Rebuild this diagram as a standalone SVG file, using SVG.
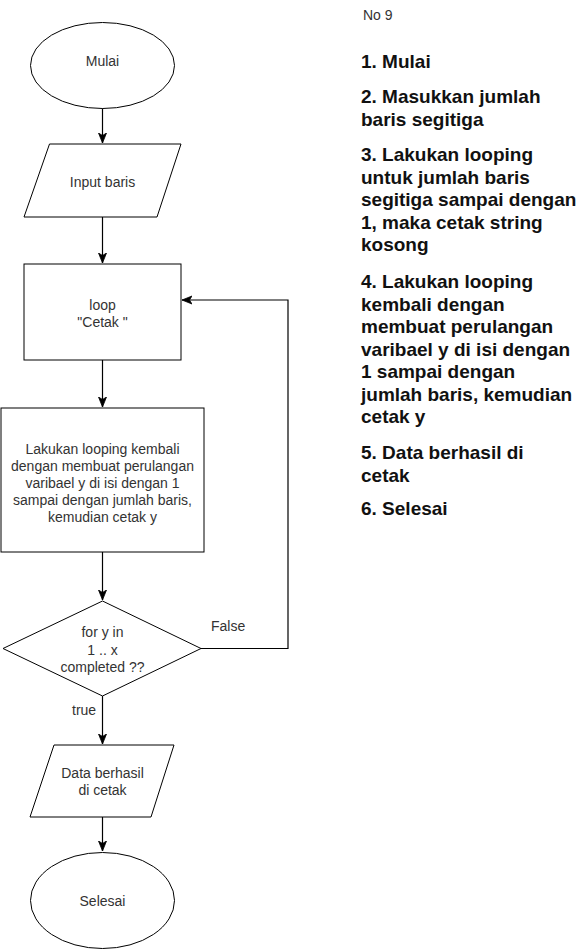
<svg xmlns="http://www.w3.org/2000/svg" width="584" height="950" viewBox="0 0 584 950">
<defs>
<style>
.shape{fill:#ffffff;stroke:#000000;stroke-width:1}
.lbl{font-family:"Liberation Sans",Arial,Helvetica,sans-serif;font-size:14px;fill:#333333;text-anchor:middle}
.edge{fill:none;stroke:#000000;stroke-width:1.2}
.elbl{font-family:"Liberation Sans",Arial,Helvetica,sans-serif;font-size:14px;fill:#333333}
.step{font-family:"Liberation Sans",Arial,Helvetica,sans-serif;font-size:19px;font-weight:bold;fill:#111111}
</style>
<marker id="arr" markerUnits="userSpaceOnUse" markerWidth="11" markerHeight="10" refX="10" refY="5" orient="auto">
<path d="M0,1 L10,5 L0,9 L2.5,5 Z" fill="#000000" stroke="#000000" stroke-width="0.8"/>
</marker>
</defs>
<rect width="584" height="950" fill="#ffffff"/>

<g id="connectors">
<path class="edge" d="M102.5,108 L102.5,143" marker-end="url(#arr)"/>
<path class="edge" d="M102.5,217 L102.5,263" marker-end="url(#arr)"/>
<path class="edge" d="M102.5,360 L102.5,407" marker-end="url(#arr)"/>
<path class="edge" d="M102.5,552 L102.5,600" marker-end="url(#arr)"/>
<path class="edge" d="M201,648.5 L288,648.5 L288,300 L182,300" marker-end="url(#arr)"/>
<path class="edge" d="M102.5,696 L102.5,744" marker-end="url(#arr)"/>
<path class="edge" d="M102.5,817 L102.5,851" marker-end="url(#arr)"/>
<text class="elbl" x="211" y="631">False</text>
<text class="elbl" x="72" y="715">true</text>
</g>

<g id="mulai">
<ellipse class="shape" cx="102.5" cy="65.5" rx="72" ry="43"/>
<text class="lbl" x="102.5" y="66">Mulai</text>
</g>

<g id="input">
<polygon class="shape" points="49.5,144 181,144 157,217 24,217"/>
<text class="lbl" x="102.5" y="187">Input baris</text>
</g>

<g id="loop">
<rect class="shape" x="24" y="264" width="157" height="96"/>
<text class="lbl" x="102.5" y="310">loop</text>
<text class="lbl" x="102.5" y="327">"Cetak "</text>
</g>

<g id="proses">
<rect class="shape" x="1" y="408" width="203" height="144"/>
<text class="lbl" x="102.5" y="454">Lakukan looping kembali</text>
<text class="lbl" x="102.5" y="471">dengan membuat perulangan</text>
<text class="lbl" x="102.5" y="488">varibael y di isi dengan 1</text>
<text class="lbl" x="102.5" y="505">sampai dengan jumlah baris,</text>
<text class="lbl" x="102.5" y="522">kemudian cetak y</text>
</g>

<g id="kondisi">
<polygon class="shape" points="102.5,601 201,648.5 102.5,696 3,648.5"/>
<text class="lbl" x="102.5" y="637">for y in</text>
<text class="lbl" x="102.5" y="655">1 .. x</text>
<text class="lbl" x="102.5" y="672">completed ??</text>
</g>

<g id="output">
<polygon class="shape" points="54,745 174,745 151,817 30,817"/>
<text class="lbl" x="102.5" y="778">Data berhasil</text>
<text class="lbl" x="102.5" y="795">di cetak</text>
</g>

<g id="selesai">
<ellipse class="shape" cx="102.5" cy="900.5" rx="72" ry="48"/>
<text class="lbl" x="102.5" y="906">Selesai</text>
</g>

<g id="keterangan">
<text class="elbl" x="363" y="20">No 9</text>
<text class="step" x="361" y="68">1. Mulai</text>
<text class="step" x="361" y="103">2. Masukkan jumlah</text>
<text class="step" x="361" y="125.5">baris segitiga</text>
<text class="step" x="361" y="161">3. Lakukan looping</text>
<text class="step" x="361" y="183.5">untuk jumlah baris</text>
<text class="step" x="361" y="206">segitiga sampai dengan</text>
<text class="step" x="361" y="228.5">1, maka cetak string</text>
<text class="step" x="361" y="251">kosong</text>
<text class="step" x="361" y="288">4. Lakukan looping</text>
<text class="step" x="361" y="310.5">kembali dengan</text>
<text class="step" x="361" y="333">membuat perulangan</text>
<text class="step" x="361" y="355.5">varibael y di isi dengan</text>
<text class="step" x="361" y="378">1 sampai dengan</text>
<text class="step" x="361" y="400.5">jumlah baris, kemudian</text>
<text class="step" x="361" y="423">cetak y</text>
<text class="step" x="361" y="459">5. Data berhasil di</text>
<text class="step" x="361" y="481.5">cetak</text>
<text class="step" x="361" y="515">6. Selesai</text>
</g>
</svg>
